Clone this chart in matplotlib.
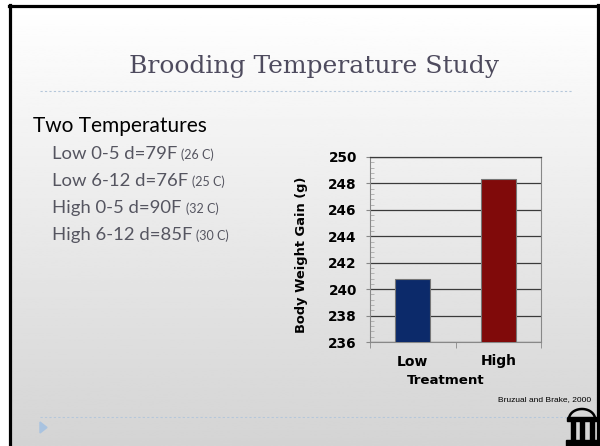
import matplotlib
matplotlib.use('Agg')
import matplotlib.pyplot as plt
import numpy as np
from matplotlib.patches import Rectangle, Polygon
from matplotlib.ticker import MultipleLocator

# data
treatments = ['Low', 'High']
weight_gain = [240.8, 248.3]
bar_colors = ['#0c2a6a', '#800a0a']

temp_lines = ['Low 0-5 d=79F', 'Low 6-12 d=76F', 'High 0-5 d=90F', 'High 6-12 d=85F']
temp_celsius = ['(26 C)', '(25 C)', '(32 C)', '(30 C)']

W, H = 600, 446
fig = plt.figure(figsize=(6, 4.46), dpi=100)
fig.patch.set_facecolor('white')

# slide background in pixel coordinates
bg = fig.add_axes([0, 0, 1, 1], zorder=0)
grad = np.linspace(1.0, 0.83, 256)[:, None]
bg.imshow(grad, cmap='gray', vmin=0, vmax=1, extent=[10, 597, 446, 6], aspect='auto')
bg.set_xlim(0, W)
bg.set_ylim(H, 0)
bg.axis('off')

# black slide frame
bg.plot([9.5, 9.5], [5, 446], color='black', lw=2.3)
bg.plot([8.5, 598], [5.5, 5.5], color='black', lw=2.3)
bg.plot([597.5, 597.5], [5, 446], color='black', lw=2.3)

# title + separators
bg.text(314, 67, 'Brooding Temperature Study', family='DejaVu Serif', fontsize=18,
        color='#4e4b5e', ha='center', va='center')
bg.plot([40, 573], [91, 91], color='#b5c7da', lw=0.8, ls=(0, (2, 2)))
bg.plot([40, 568], [417, 417], color='#b5c7da', lw=0.8, ls=(0, (2, 2)))
bg.add_patch(Polygon([(40, 422), (47, 427.5), (40, 433)], closed=True, color='#a9c3e0'))

# bullet text
bg.text(33, 132, 'Two Temperatures', family='Lato', fontsize=15, color='black', va='baseline')
main_texts = []
for i, s in enumerate(temp_lines):
    t = bg.text(52, 159 + 27 * i, s, family='Lato', fontsize=13.3, color='#555560', va='baseline')
    main_texts.append(t)
fig.canvas.draw()
inv = bg.transData.inverted()
for i, t in enumerate(main_texts):
    bb = t.get_window_extent()
    xr = inv.transform((bb.x1, bb.y0))[0]
    bg.text(xr + 4, 159 + 27 * i, temp_celsius[i], family='Lato', fontsize=9,
            color='#555560', va='baseline')

# chart
ax = fig.add_axes([370 / W, 1 - 342 / H, 171 / W, 185 / H], zorder=2)
ax.patch.set_alpha(0)
x = np.arange(len(treatments))
ax.bar(x, weight_gain, width=0.41, color=bar_colors, edgecolor='#777777', linewidth=0.8, zorder=3)
ax.set_xlim(-0.5, 1.5)
ax.set_ylim(236, 250)
ax.set_yticks(np.arange(236, 251, 2))
ax.yaxis.set_minor_locator(MultipleLocator(0.4))
ax.yaxis.grid(True, color='#3a3a3a', lw=0.9)
ax.set_axisbelow(True)
ax.set_xticks(x)
ax.set_xticklabels(treatments)
ax.set_xticks([-0.5, 0.5, 1.5], minor=True)
ax.tick_params(axis='y', which='major', direction='out', length=3, color='#888888',
               labelsize=9.8, pad=6.5)
ax.tick_params(axis='y', which='minor', direction='in', length=3, color='#aaaaaa')
ax.tick_params(axis='x', which='major', direction='in', length=3, color='#888888',
               labelsize=10, pad=9)
ax.tick_params(axis='x', which='minor', direction='out', length=4, color='#888888')
for lbl in ax.get_yticklabels() + ax.get_xticklabels():
    lbl.set_fontweight('bold')
for side in ['left', 'right', 'bottom']:
    ax.spines[side].set_color('#888888')
    ax.spines[side].set_linewidth(0.8)
ax.spines['top'].set_color('#3a3a3a')
ax.spines['top'].set_linewidth(0.9)

bg.text(301.5, 255, 'Body Weight Gain (g)', rotation=90, fontsize=9.4, fontweight='bold',
        ha='center', va='center')
bg.text(446, 381, 'Treatment', fontsize=9.6, fontweight='bold', ha='center', va='center')
bg.text(591, 400, 'Bruzual and Brake, 2000', family='Liberation Sans', fontsize=6,
        ha='right', va='center')

# arch logo
t = np.linspace(0, np.pi, 60)
bg.plot(582 + 13 * np.cos(t), 419 - 10 * np.sin(t), color='black', lw=1.8, solid_capstyle='butt')
bg.add_patch(Rectangle((567, 417), 30, 4, color='black'))
for px in [570.5, 580, 589.5]:
    bg.add_patch(Rectangle((px, 421), 4, 19, color='black'))
bg.add_patch(Rectangle((566, 440), 32, 6, color='black'))

fig.savefig('out.png', dpi=100)
